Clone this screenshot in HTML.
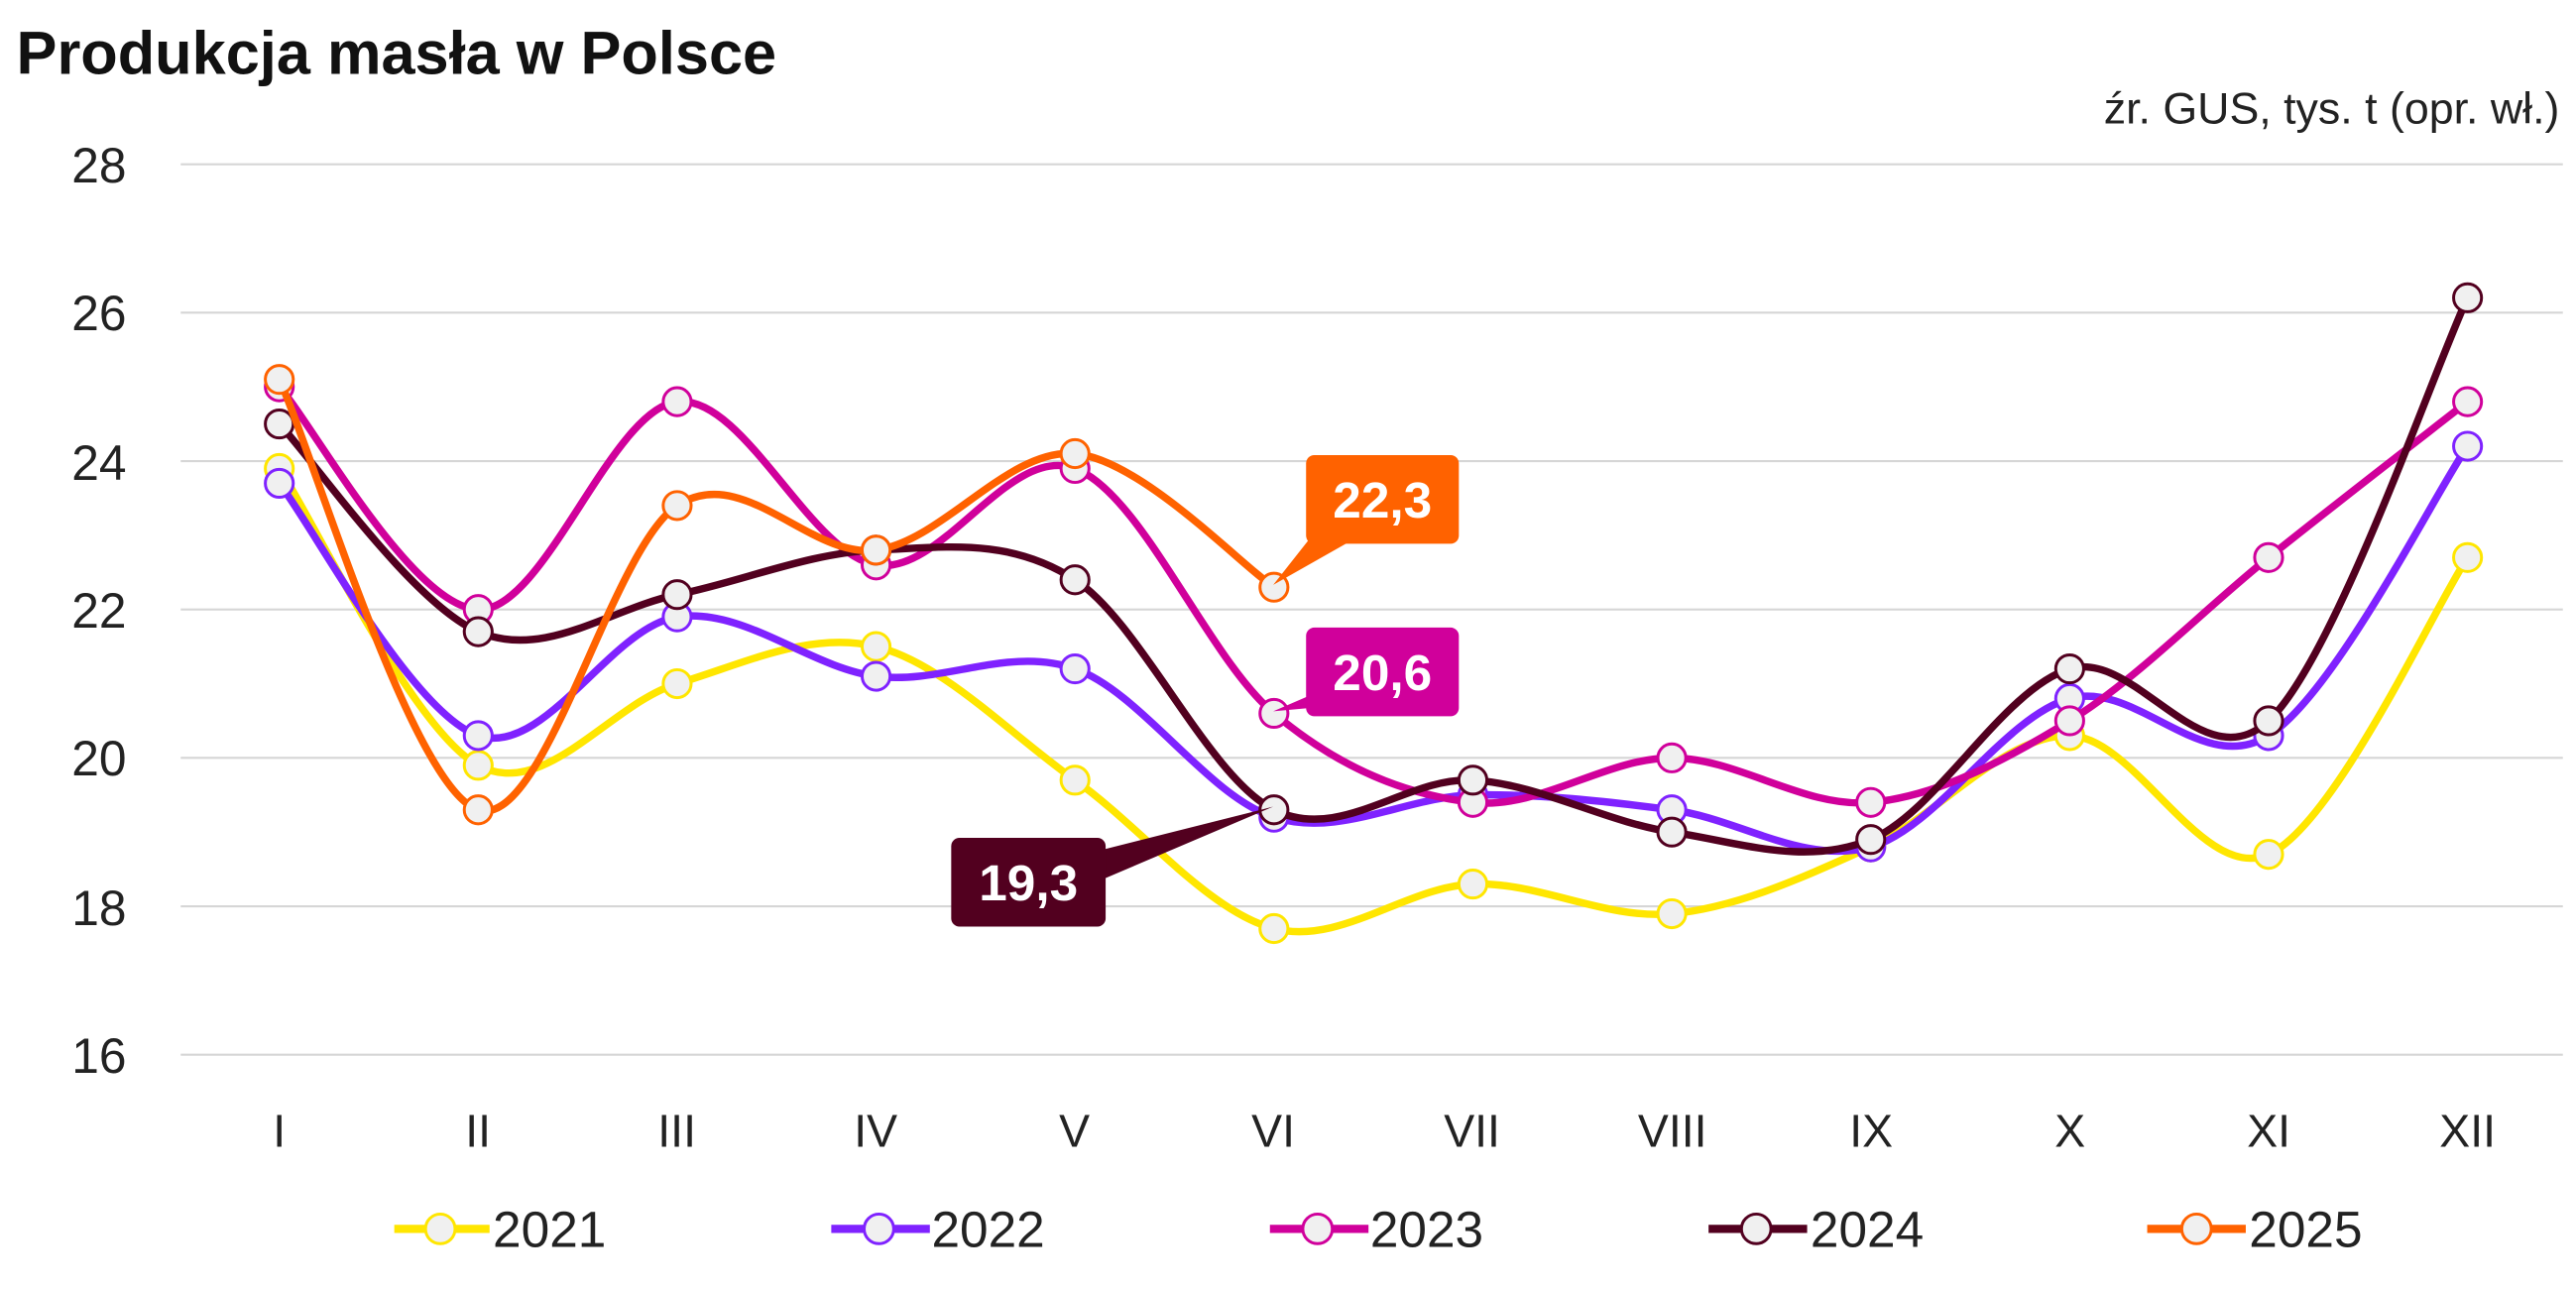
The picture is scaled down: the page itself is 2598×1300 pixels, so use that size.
<!DOCTYPE html>
<html><head><meta charset="utf-8"><style>
html,body{margin:0;padding:0;background:#fff}
svg{display:block}
text{font-family:"Liberation Sans",sans-serif}
</style></head><body>
<svg id="s" width="2598" height="1300" viewBox="0 0 1568 784.6" preserveAspectRatio="none" xmlns="http://www.w3.org/2000/svg">
<text x="10" y="45" font-size="37" font-weight="bold" fill="#111">Produkcja masła w Polsce</text>
<text x="1558" y="75" font-size="27" fill="#222" text-anchor="end">źr. GUS, tys. t (opr. wł.)</text>
<g stroke="#d6d6d6" stroke-width="1.3">
<line x1="110" x2="1560" y1="100" y2="100"/><line x1="110" x2="1560" y1="190.3" y2="190.3"/>
<line x1="110" x2="1560" y1="280.7" y2="280.7"/><line x1="110" x2="1560" y1="371" y2="371"/>
<line x1="110" x2="1560" y1="461.3" y2="461.3"/><line x1="110" x2="1560" y1="551.7" y2="551.7"/>
<line x1="110" x2="1560" y1="642" y2="642"/>
</g>
<g font-size="30" fill="#222" text-anchor="end">
<text x="77" y="111">28</text><text x="77" y="201">26</text><text x="77" y="292">24</text>
<text x="77" y="382">22</text><text x="77" y="472">20</text><text x="77" y="563">18</text><text x="77" y="653">16</text>
</g>
<g font-size="28" fill="#222" text-anchor="middle">
<text x="170" y="698">I</text><text x="291" y="698">II</text><text x="412" y="698">III</text>
<text x="533" y="698">IV</text><text x="654" y="698">V</text><text x="775" y="698">VI</text>
<text x="896" y="698">VII</text><text x="1018" y="698">VIII</text><text x="1139" y="698">IX</text>
<text x="1260" y="698">X</text><text x="1381" y="698">XI</text><text x="1502" y="698">XII</text>
</g>
<g id="series"></g>
<path d="M805,318 L775,356 L828,326 Z" fill="#FF6200"/>
<rect x="795" y="277" width="93" height="54" rx="5" fill="#FF6200"/>
<text x="841.5" y="315" font-size="31" font-weight="bold" fill="#fff" text-anchor="middle">22,3</text>
<path d="M805,420 L775,433 L830,428 Z" fill="#D0009B"/>
<rect x="795" y="382" width="93" height="54" rx="5" fill="#D0009B"/>
<text x="841.5" y="420" font-size="31" font-weight="bold" fill="#fff" text-anchor="middle">20,6</text>
<path d="M660,520 L775,491 L660,540 Z" fill="#52001F"/>
<rect x="579" y="510" width="94" height="54" rx="5" fill="#52001F"/>
<text x="626" y="548" font-size="31" font-weight="bold" fill="#fff" text-anchor="middle">19,3</text>
<g stroke-width="5">
<line x1="240" x2="298" y1="748" y2="748" stroke="#FFE600"/>
<line x1="506" x2="566" y1="748" y2="748" stroke="#7F22FF"/>
<line x1="773" x2="833" y1="748" y2="748" stroke="#D0009B"/>
<line x1="1040" x2="1100" y1="748" y2="748" stroke="#52001F"/>
<line x1="1307" x2="1367" y1="748" y2="748" stroke="#FF6200"/>
</g>
<g fill="#f0f0f0" stroke-width="1.8">
<circle cx="268" cy="748" r="9" stroke="#FFE600"/>
<circle cx="535" cy="748" r="9" stroke="#7F22FF"/>
<circle cx="802" cy="748" r="9" stroke="#D0009B"/>
<circle cx="1069" cy="748" r="9" stroke="#52001F"/>
<circle cx="1337" cy="748" r="9" stroke="#FF6200"/>
</g>
<g font-size="31" fill="#222">
<text x="300" y="759">2021</text><text x="567" y="759">2022</text><text x="834" y="759">2023</text>
<text x="1102" y="759">2024</text><text x="1369" y="759">2025</text>
</g>
</svg>
<script>
var S=[["#FFE600",[23.9,19.9,21.0,21.5,19.7,17.7,18.3,17.9,18.8,20.3,18.7,22.7]],
["#7F22FF",[23.7,20.3,21.9,21.1,21.2,19.2,19.5,19.3,18.8,20.8,20.3,24.2]],
["#D0009B",[25.0,22.0,24.8,22.6,23.9,20.6,19.4,20.0,19.4,20.5,22.7,24.8]],
["#52001F",[24.5,21.7,22.2,22.8,22.4,19.3,19.7,19.0,18.9,21.2,20.5,26.2]],
["#FF6200",[25.1,19.3,23.4,22.8,24.1,22.3]]];
var g=document.getElementById("series"),h="";
function X(i){return 170+i*121.09}function Y(v){return 642-(v-16)*45.17}
S.forEach(function(s){var p=s[1].map(function(v,i){return[X(i),Y(v)]});
var d="M"+p[0][0]+","+p[0][1];
for(var i=0;i<p.length-1;i++){var a=p[i-1]||p[i],b=p[i],c=p[i+1],e=p[i+2]||c;
d+=" C"+(b[0]+(c[0]-a[0])/6)+","+(b[1]+(c[1]-a[1])/6)+" "+(c[0]-(e[0]-b[0])/6)+","+(c[1]-(e[1]-b[1])/6)+" "+c[0]+","+c[1];}
h+='<path d="'+d+'" fill="none" stroke="'+s[0]+'" stroke-width="4.5"/>';
p.forEach(function(q){h+='<circle cx="'+q[0]+'" cy="'+q[1]+'" r="8.5" fill="#f0f0f0" stroke="'+s[0]+'" stroke-width="1.8"/>'});});
g.innerHTML=h;
</script>
</body></html>
